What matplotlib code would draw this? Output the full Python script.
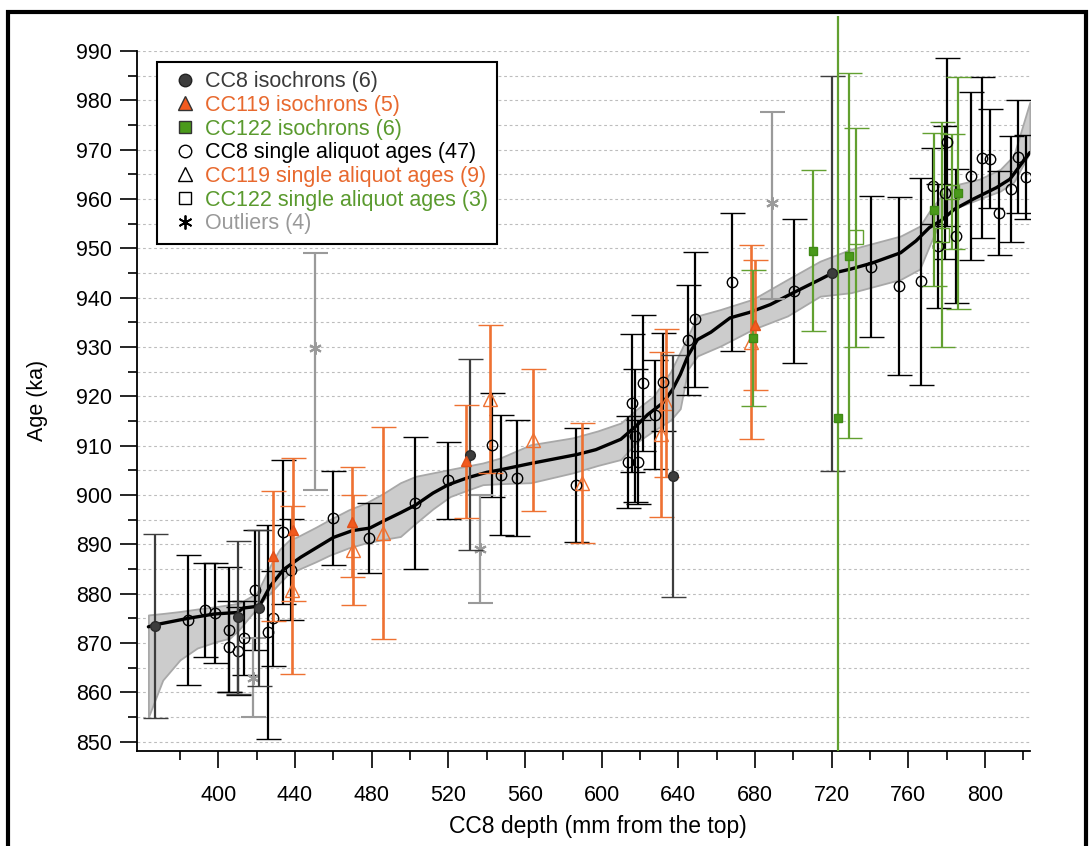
import matplotlib
matplotlib.use("Agg")
import matplotlib.pyplot as plt
from matplotlib.lines import Line2D
from matplotlib.patches import Rectangle
from matplotlib.ticker import FixedLocator

plt.rcParams['font.family'] = ['Liberation Sans', 'DejaVu Sans']

# age-depth model (line) and its uncertainty band
model_depth = [363.5, 367, 384, 398, 410, 413, 421.4, 427, 434, 443, 460, 470, 479, 486, 495,
               503, 512, 520, 530, 540, 547, 563, 587, 597, 610, 618, 624, 632, 637, 641,
               645, 650, 657, 667, 677, 688, 700, 714, 720, 730, 741, 756, 764, 771, 777,
               781, 784, 794, 806, 813, 823.4]
model_age = [873.3, 873.7, 875.0, 875.9, 876.2, 877.1, 877.5, 881.5, 884.9, 887.4, 891.4, 892.8,
             893.3, 894.7, 896.4, 898.0, 900.4, 902.1, 903.5, 904.6, 905.1, 906.4, 908.2, 909.2,
             911.3, 914.0, 916.3, 918.7, 921.4, 924.4, 928.2, 931.5, 933.0, 935.9, 937.0, 938.6,
             941.0, 943.7, 944.9, 945.8, 947.0, 949.1, 951.5, 954.2, 955.6, 956.9, 957.9, 960.0,
             962.3, 964.0, 969.4]

band_depth = [363.5, 371, 380, 389, 399, 406, 411, 415, 420, 424, 428, 432, 437, 441, 451, 458,
              468, 477, 486, 495, 503, 512, 521, 530, 538, 547, 563, 585, 598, 610, 618, 627,
              636, 641, 645, 650, 662, 679, 697, 714, 730, 756, 766, 771, 777, 783, 797, 808,
              815, 823.4]
band_hi = [875.7, 876.0, 876.4, 876.9, 877.4, 877.8, 878.1, 879.0, 880.1, 883.2, 886.4, 889.0,
           890.9, 891.5, 893.5, 895.0, 897.0, 898.4, 900.3, 902.5, 903.8, 904.5, 905.2, 905.9,
           906.5, 907.5, 910.2, 911.6, 913.0, 914.6, 917.3, 920.0, 925.0, 929.0, 932.2, 936.3,
           937.6, 939.7, 943.7, 947.4, 949.8, 952.5, 954.5, 957.5, 960.5, 962.7, 964.0, 966.0,
           968.8, 979.6]
band_lo = [855.0, 862.5, 866.6, 869.0, 870.3, 871.0, 872.8, 874.7, 877.0, 878.9, 880.5, 882.2,
           884.2, 884.8, 886.5, 887.8, 889.3, 890.3, 891.0, 891.6, 894.3, 897.2, 899.7, 901.0,
           902.1, 902.3, 902.5, 904.5, 906.0, 907.2, 910.6, 913.0, 915.2, 917.5, 925.5, 928.2,
           930.2, 933.6, 936.3, 940.3, 941.0, 943.7, 945.8, 950.5, 955.9, 957.9, 960.0, 961.6,
           963.4, 969.4]

# CC8 isochrons
cc8_iso_depth = [367.0, 410.1, 421.4, 531.3, 637.0, 720.3]
cc8_iso_age = [873.5, 875.2, 877.2, 908.2, 903.8, 944.9]
cc8_iso_err = [18.7, 15.5, 15.8, 19.3, 24.5, 40.0]

# CC119 isochrons
cc119_iso_depth = [428.7, 439.1, 469.9, 529.1, 680.0]
cc119_iso_age = [887.6, 893.0, 894.5, 906.8, 934.4]
cc119_iso_err = [13.2, 14.5, 11.1, 11.4, 13.2]

# CC122 isochrons
cc122_iso_depth = [679.1, 710.4, 723.4, 729.2, 773.3, 785.8]
cc122_iso_age = [931.9, 949.5, 915.7, 948.5, 957.8, 961.3]
cc122_iso_err = [13.8, 16.3, 82.0, 37.0, 15.5, 23.5]

# CC8 single aliquot ages
cc8_sa_depth = [384.0, 393.1, 398.3, 405.7, 405.7, 410.1, 413.4, 419.1, 426.1, 428.4, 433.9, 438.1,
                460.0, 478.8, 502.6, 520.0, 543.0, 547.3, 556.0, 586.4,
                613.9, 616.0, 617.5, 619.1, 621.7, 627.8, 631.8, 644.9, 648.8, 667.8, 700.5,
                740.5, 755.2, 766.4, 772.7, 775.3, 779.0, 780.3, 784.8, 792.5, 798.2, 802.6,
                807.4, 813.4, 817.3, 821.3]
cc8_sa_age = [874.7, 876.7, 876.1, 872.7, 869.3, 868.4, 871.0, 880.7, 872.3, 875.0, 892.6, 884.9,
              895.4, 891.3, 898.4, 903.0, 910.2, 904.1, 903.5, 902.0,
              906.7, 918.7, 912.0, 906.7, 922.7, 916.3, 922.9, 931.4, 935.6, 943.1, 941.4,
              946.3, 942.4, 943.3, 962.7, 950.5, 961.3, 971.5, 952.5, 964.7, 968.4, 968.2,
              957.1, 962.0, 968.6, 964.4]
cc8_sa_err = [13.1, 9.5, 10.2, 12.7, 9.3, 9.0, 7.5, 12.2, 21.7, 9.7, 14.6, 10.2,
              9.5, 7.1, 13.3, 7.8, 10.5, 12.2, 11.8, 11.6,
              9.3, 14.0, 13.5, 8.5, 13.8, 11.0, 10.0, 11.2, 13.7, 14.0, 14.6,
              14.3, 18.0, 21.0, 7.7, 12.5, 13.5, 17.0, 13.5, 17.0, 16.3, 10.0,
              8.5, 10.8, 11.4, 8.5]

# CC119 single aliquot ages
cc119_sa_depth = [438.3, 470.4, 486.1, 541.7, 564.3, 589.6, 630.9, 633.5, 677.7]
cc119_sa_age = [880.8, 888.9, 892.3, 919.4, 911.2, 902.5, 912.3, 918.7, 931.0]
cc119_sa_err = [17.0, 11.2, 21.4, 15.0, 14.4, 12.2, 16.7, 15.0, 19.7]

# CC122 single aliquot ages
cc122_sa_depth = [732.5, 777.4, 782.9]
cc122_sa_age = [952.2, 952.7, 961.5]
cc122_sa_err = [22.2, 22.8, 11.7]

# outliers
out_depth = [418.3, 450.4, 536.5, 688.7]
out_age = [863.0, 929.7, 889.1, 959.2]
out_err_lo = [8.0, 28.7, 11.0, 19.4]
out_err_hi = [8.0, 19.3, 11.0, 18.5]

ORANGE = '#ee7132'
GREEN = '#62a030'
GREY = '#9a9a9a'
DARK = '#3d3d3d'

fig = plt.figure(figsize=(10.91, 8.46), dpi=100)
ax = fig.add_axes([0.1253, 0.1127, 0.8188, 0.8271])

ax.set_xlim(357.4, 823.5)
ax.set_ylim(848.2, 990)

# horizontal dashed grid every 5 ka
for g in range(850, 991, 5):
    ax.axhline(g, color='#bdbdbd', lw=0.8, ls=(0, (2.5, 2.5)), zorder=0)

ax.fill_between(band_depth, band_lo, band_hi, facecolor='#cccccc', edgecolor='#a8a8a8',
                lw=1.3, zorder=1)
ax.plot(model_depth, model_age, color='black', lw=2.4, zorder=2, solid_capstyle='round')

cap = 9

def bars(d, a, e, marker, ms, mfc, mec, ecol, elw, z, mew=1.0):
    return ax.errorbar(d, a, yerr=e, ls='none', marker=marker, ms=ms, mfc=mfc, mec=mec, mew=mew,
                       ecolor=ecol, elinewidth=elw, capsize=cap, capthick=elw, zorder=z)

bars(cc8_sa_depth, cc8_sa_age, cc8_sa_err, 'o', 7.5, 'none', 'black', 'black', 1.6, 3)
bars(cc119_sa_depth, cc119_sa_age, cc119_sa_err, '^', 10, 'none', ORANGE, ORANGE, 1.9, 3)
bars(cc122_sa_depth, cc122_sa_age, cc122_sa_err, 's', 10, 'none', GREEN, GREEN, 1.6, 3)
bars(out_depth, out_age, [out_err_lo, out_err_hi], (6, 2, 0), 9, GREY, GREY, GREY, 1.6, 3, mew=1.5)
bars(cc8_iso_depth, cc8_iso_age, cc8_iso_err, 'o', 7, DARK, '#2a2a2a', DARK, 1.6, 4)
bars(cc119_iso_depth, cc119_iso_age, cc119_iso_err, '^', 7.5, '#f25a1e', '#e0501a', ORANGE, 1.9, 4)
c122 = bars(cc122_iso_depth, cc122_iso_age, cc122_iso_err, 's', 6, '#4a9a1a', '#3f8a15', GREEN, 1.6, 4)

# the very long CC122 bar runs above the top of the frame
clip = Rectangle((0, 0), 1, 1.05, transform=ax.transAxes)
for art in list(c122.lines[1]) + list(c122.lines[2]):
    art.set_clip_path(clip)

# axes styling
for s in ['top', 'right']:
    ax.spines[s].set_visible(False)
for s in ['left', 'bottom']:
    ax.spines[s].set_linewidth(1.3)

ax.xaxis.set_major_locator(FixedLocator(range(400, 801, 40)))
ax.xaxis.set_minor_locator(FixedLocator(range(380, 821, 40)))
ax.yaxis.set_major_locator(FixedLocator(range(850, 991, 10)))
ax.yaxis.set_minor_locator(FixedLocator(range(855, 990, 10)))
ax.tick_params(which='major', length=12, width=1.2, labelsize=15.5, direction='out')
ax.tick_params(which='minor', length=6.5, width=1.2, direction='out')
ax.tick_params(axis='x', which='major', pad=13)
ax.tick_params(axis='y', which='major', pad=6)

ax.set_xlabel('CC8 depth (mm from the top)', fontsize=16.5)
ax.set_ylabel('Age (ka)', fontsize=15.5)
ax.xaxis.set_label_coords(0.516, -0.109)
ax.xaxis.label.set_va('center')
ax.yaxis.set_label_coords(-0.111, 0.5)
ax.yaxis.label.set_va('center')

handles = [
    Line2D([], [], ls='none', marker='o', ms=9, mfc='#3d3d3d', mec='#222222'),
    Line2D([], [], ls='none', marker='^', ms=9.5, mfc='#f25a1e', mec='#333333'),
    Line2D([], [], ls='none', marker='s', ms=8.5, mfc='#4a9a1a', mec='#333333'),
    Line2D([], [], ls='none', marker='o', ms=9, mfc='none', mec='black'),
    Line2D([], [], ls='none', marker='^', ms=9.5, mfc='none', mec='black'),
    Line2D([], [], ls='none', marker='s', ms=8.5, mfc='none', mec='black'),
    Line2D([], [], ls='none', marker=(6, 2, 0), ms=10, mec='black', mew=1.3),
]
labels = ['CC8 isochrons (6)', 'CC119 isochrons (5)', 'CC122 isochrons (6)',
          'CC8 single aliquot ages (47)', 'CC119 single aliquot ages (9)',
          'CC122 single aliquot ages (3)', 'Outliers (4)']
text_cols = ['#3a3a3a', '#e8692e', '#5a9a2e', 'black', '#e8692e', '#5a9a2e', '#999999']

leg = ax.legend(handles, labels, loc='upper left', bbox_to_anchor=(157 / 1091, 1 - 62 / 846),
                bbox_transform=fig.transFigure, borderaxespad=0, fontsize=15.5,
                handlelength=1.74, handletextpad=0.06, borderpad=0.43, labelspacing=0.125,
                fancybox=False, framealpha=1, edgecolor='black')
leg.get_frame().set_linewidth(1.5)
leg.set_zorder(10)
for t, c in zip(leg.get_texts(), text_cols):
    t.set_color(c)

# thick outer frame (open at the bottom)
x0, x1, yt = 7.5 / 1091, 1086 / 1091, 1 - 12 / 846
fig.add_artist(Line2D([x0, x0, x1, x1], [-0.1, yt, yt, -0.1], transform=fig.transFigure,
                      color='black', lw=3.0, solid_joinstyle='miter'))

fig.savefig('out.png', dpi=100)
